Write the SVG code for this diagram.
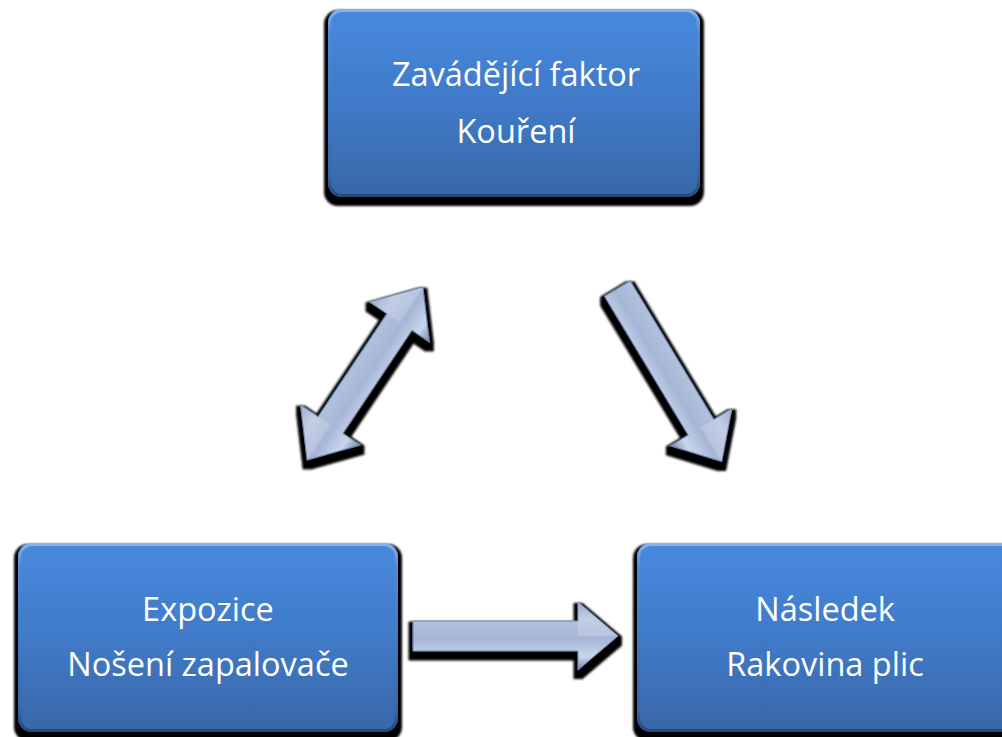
<svg xmlns="http://www.w3.org/2000/svg" width="1002" height="737" viewBox="0 0 1002 737">
  <defs>
    <linearGradient id="boxFill" x1="0" y1="0" x2="0" y2="1">
      <stop offset="0" stop-color="#4889de"/>
      <stop offset="0.5" stop-color="#407ac8"/>
      <stop offset="1" stop-color="#3867a8"/>
    </linearGradient>
    <linearGradient id="boxRim" x1="0" y1="0" x2="0" y2="1">
      <stop offset="0" stop-color="#ffffff" stop-opacity="0.35"/>
      <stop offset="0.12" stop-color="#ffffff" stop-opacity="0.04"/>
      <stop offset="0.88" stop-color="#000000" stop-opacity="0.04"/>
      <stop offset="1" stop-color="#000000" stop-opacity="0.3"/>
    </linearGradient>
    <linearGradient id="arrowFill" x1="0" y1="0" x2="0" y2="1">
      <stop offset="0" stop-color="#8b9dc0"/>
      <stop offset="0.25" stop-color="#b4c3df"/>
      <stop offset="0.55" stop-color="#a6b6d6"/>
      <stop offset="0.8" stop-color="#c9d6ee"/>
      <stop offset="1" stop-color="#7587ab"/>
    </linearGradient>
    <filter id="drop" x="-10%" y="-10%" width="120%" height="130%">
      <feMorphology in="SourceAlpha" operator="dilate" radius="4" result="grow"/>
      <feOffset in="grow" dx="0" dy="5" result="off"/>
      <feGaussianBlur in="off" stdDeviation="1.2" result="shade"/>
      <feMerge>
        <feMergeNode in="shade"/>
        <feMergeNode in="SourceGraphic"/>
      </feMerge>
    </filter>
  </defs>
  <style>
    .box { fill: url(#boxFill); }
    .rim { fill: none; stroke: url(#boxRim); stroke-width: 3; }
    .label { font-family: "Open Sans", "Liberation Sans", sans-serif; font-size: 32.5px; fill: #ffffff; text-anchor: middle; }
    .arrow { fill: url(#arrowFill); stroke: #6d80a6; stroke-width: 1; stroke-linejoin: round; }
    .facet { fill: #ffffff; fill-opacity: 0.18; }
  </style>

  <rect width="1002" height="737" fill="#ffffff"/>

  <!-- connectors -->
  <g id="connectors">
    <!-- confounder <-> exposure (two-headed) -->
    <g filter="url(#drop)">
      <g transform="translate(365,373.5) rotate(-56.2)">
        <path class="arrow" d="M-104,0 L-62,-36 L-62,-15 L62,-15 L62,-36 L104,0 L62,36 L62,15 L-62,15 L-62,36 Z"/>
        <path class="facet" d="M62,-36 L104,0 L62,0 Z"/>
        <path class="facet" d="M-62,-36 L-104,0 L-62,0 Z"/>
      </g>
    </g>
    <!-- confounder -> outcome -->
    <g filter="url(#drop)">
      <g transform="translate(669.5,375) rotate(58.9)">
        <path class="arrow" d="M-101,-15 L61,-15 L61,-36 L101,0 L61,36 L61,15 L-101,15 Z"/>
        <path class="facet" d="M61,-36 L101,0 L61,0 Z"/>
      </g>
    </g>
    <!-- exposure -> outcome -->
    <g filter="url(#drop)">
      <path class="arrow" d="M413,621 L578,621 L578,602 L618,636 L578,670 L578,651 L413,651 Z"/>
      <path class="facet" d="M578,602 L618,636 L578,636 Z"/>
    </g>
  </g>

  <!-- confounder -->
  <g id="node-confounder">
    <rect class="box" x="328" y="9" width="372" height="188" rx="14" filter="url(#drop)"/>
    <rect class="rim" x="329.5" y="10.5" width="369" height="185" rx="13"/>
    <text class="label" x="516" y="86">Zavádějící faktor</text>
    <text class="label" x="516" y="143">Kouření</text>
  </g>

  <!-- exposure -->
  <g id="node-exposure">
    <rect class="box" x="18" y="543" width="380" height="189" rx="14" filter="url(#drop)"/>
    <rect class="rim" x="19.5" y="544.5" width="377" height="186" rx="13"/>
    <text class="label" x="208" y="621">Expozice</text>
    <text class="label" x="208" y="676">Nošení zapalovače</text>
  </g>

  <!-- outcome -->
  <g id="node-outcome">
    <rect class="box" x="637" y="543" width="380" height="189" rx="14" filter="url(#drop)"/>
    <rect class="rim" x="638.5" y="544.5" width="377" height="186" rx="13"/>
    <text class="label" x="825" y="621">Následek</text>
    <text class="label" x="825" y="676">Rakovina plic</text>
  </g>
</svg>
